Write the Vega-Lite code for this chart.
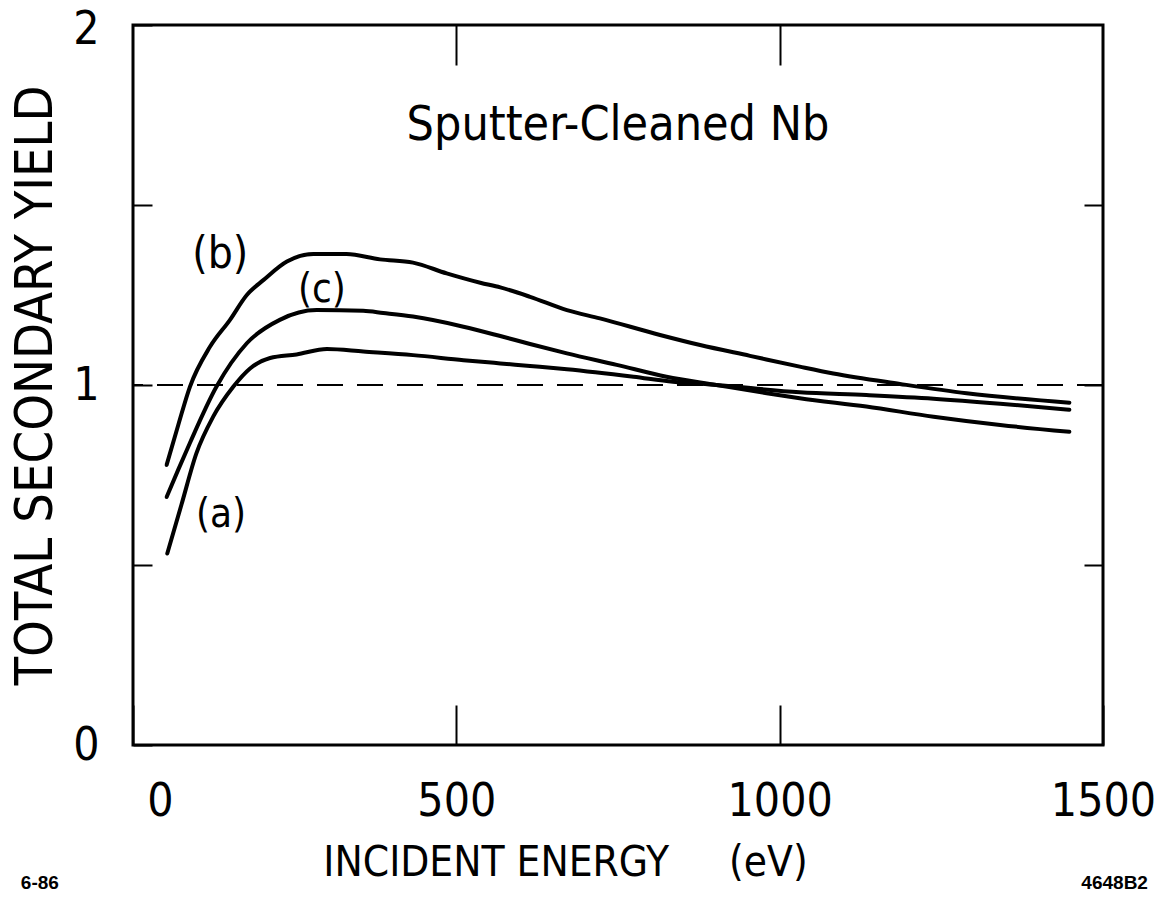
{
  "$schema": "https://vega.github.io/schema/vega-lite/v6.json",
  "width": 970,
  "height": 720,
  "autosize": {"type": "none"},
  "padding": {"left": 133, "top": 25, "right": 52, "bottom": 157},
  "background": "white",
  "config": {
    "view": {"stroke": "black", "strokeWidth": 3},
    "font": "DejaVu Sans Condensed, Liberation Sans Narrow, Liberation Sans, sans-serif",
    "axis": {
      "domain": false,
      "tickColor": "black",
      "tickWidth": 2,
      "tickSize": -19,
      "labelColor": "black",
      "labelFont": "DejaVu Sans Condensed, Liberation Sans Narrow, Liberation Sans, sans-serif",
      "labelFontSize": 46,
      "labelFlush": false,
      "labelOverlap": false,
      "labelBound": false,
      "grid": false,
      "titleColor": "black",
      "titleFont": "DejaVu Sans Condensed, Liberation Sans Narrow, Liberation Sans, sans-serif",
      "titleFontWeight": "normal"
    }
  },
  "resolve": {"axis": {"x": "independent", "y": "independent"}},
  "datasets": {
    "curves": [
      {"curve": "b", "energy": 52, "yield": 0.778},
      {"curve": "b", "energy": 70, "yield": 0.889},
      {"curve": "b", "energy": 88, "yield": 0.995},
      {"curve": "b", "energy": 119, "yield": 1.106},
      {"curve": "b", "energy": 150, "yield": 1.181},
      {"curve": "b", "energy": 176, "yield": 1.25},
      {"curve": "b", "energy": 202, "yield": 1.292},
      {"curve": "b", "energy": 238, "yield": 1.343},
      {"curve": "b", "energy": 279, "yield": 1.364},
      {"curve": "b", "energy": 330, "yield": 1.364},
      {"curve": "b", "energy": 382, "yield": 1.349},
      {"curve": "b", "energy": 433, "yield": 1.34},
      {"curve": "b", "energy": 485, "yield": 1.31},
      {"curve": "b", "energy": 537, "yield": 1.284},
      {"curve": "b", "energy": 568, "yield": 1.271},
      {"curve": "b", "energy": 614, "yield": 1.245},
      {"curve": "b", "energy": 671, "yield": 1.208},
      {"curve": "b", "energy": 722, "yield": 1.185},
      {"curve": "b", "energy": 815, "yield": 1.139},
      {"curve": "b", "energy": 877, "yield": 1.111},
      {"curve": "b", "energy": 954, "yield": 1.081},
      {"curve": "b", "energy": 1031, "yield": 1.051},
      {"curve": "b", "energy": 1083, "yield": 1.032},
      {"curve": "b", "energy": 1186, "yield": 1.003},
      {"curve": "b", "energy": 1289, "yield": 0.977},
      {"curve": "b", "energy": 1448, "yield": 0.951},
      {"curve": "c", "energy": 52, "yield": 0.689},
      {"curve": "c", "energy": 70, "yield": 0.765},
      {"curve": "c", "energy": 88, "yield": 0.839},
      {"curve": "c", "energy": 129, "yield": 0.995},
      {"curve": "c", "energy": 176, "yield": 1.116},
      {"curve": "c", "energy": 227, "yield": 1.181},
      {"curve": "c", "energy": 284, "yield": 1.208},
      {"curve": "c", "energy": 356, "yield": 1.206},
      {"curve": "c", "energy": 387, "yield": 1.2},
      {"curve": "c", "energy": 433, "yield": 1.19},
      {"curve": "c", "energy": 511, "yield": 1.162},
      {"curve": "c", "energy": 568, "yield": 1.136},
      {"curve": "c", "energy": 614, "yield": 1.114},
      {"curve": "c", "energy": 671, "yield": 1.088},
      {"curve": "c", "energy": 748, "yield": 1.056},
      {"curve": "c", "energy": 825, "yield": 1.023},
      {"curve": "c", "energy": 902, "yield": 1.0},
      {"curve": "c", "energy": 980, "yield": 0.977},
      {"curve": "c", "energy": 1031, "yield": 0.963},
      {"curve": "c", "energy": 1134, "yield": 0.94},
      {"curve": "c", "energy": 1238, "yield": 0.912},
      {"curve": "c", "energy": 1341, "yield": 0.889},
      {"curve": "c", "energy": 1448, "yield": 0.87},
      {"curve": "a", "energy": 53, "yield": 0.532},
      {"curve": "a", "energy": 75, "yield": 0.668},
      {"curve": "a", "energy": 98, "yield": 0.81},
      {"curve": "a", "energy": 124, "yield": 0.912},
      {"curve": "a", "energy": 155, "yield": 0.995},
      {"curve": "a", "energy": 181, "yield": 1.046},
      {"curve": "a", "energy": 212, "yield": 1.075},
      {"curve": "a", "energy": 253, "yield": 1.085},
      {"curve": "a", "energy": 300, "yield": 1.1},
      {"curve": "a", "energy": 356, "yield": 1.093},
      {"curve": "a", "energy": 433, "yield": 1.083},
      {"curve": "a", "energy": 511, "yield": 1.069},
      {"curve": "a", "energy": 568, "yield": 1.06},
      {"curve": "a", "energy": 614, "yield": 1.053},
      {"curve": "a", "energy": 671, "yield": 1.044},
      {"curve": "a", "energy": 774, "yield": 1.023},
      {"curve": "a", "energy": 835, "yield": 1.009},
      {"curve": "a", "energy": 902, "yield": 1.0},
      {"curve": "a", "energy": 1031, "yield": 0.98},
      {"curve": "a", "energy": 1134, "yield": 0.972},
      {"curve": "a", "energy": 1238, "yield": 0.962},
      {"curve": "a", "energy": 1341, "yield": 0.948},
      {"curve": "a", "energy": 1448, "yield": 0.931}
    ],
    "reference": [{"yield": 1}],
    "bigLabels": [{"text": "(b)", "energy": 135, "yield": 1.361}],
    "smallLabels": [
      {"text": "(c)", "energy": 292, "yield": 1.264},
      {"text": "(a)", "energy": 136, "yield": 0.639}
    ],
    "heading": [{"text": "Sputter-Cleaned Nb", "energy": 750, "yield": 1.681}],
    "notes": [
      {"text": "6-86", "energy": -144, "yield": -0.383},
      {"text": "4648B2", "energy": 1518, "yield": -0.383}
    ]
  },
  "layer": [
    {
      "data": {"name": "curves"},
      "mark": {"type": "line", "color": "black", "strokeWidth": 4, "interpolate": "monotone", "strokeCap": "round"},
      "encoding": {
        "x": {
          "field": "energy", "type": "quantitative",
          "scale": {"domain": [0, 1500], "nice": false, "zero": false},
          "axis": {
            "orient": "bottom",
            "values": [0, 500, 1000, 1500],
            "format": "d",
            "tickSize": -40,
            "labelPadding": 74,
            "labelOffset": {"condition": {"test": "datum.value === 0", "value": 27}, "value": 0},
            "title": "INCIDENT ENERGY \u00a0\u00a0\u00a0\u00a0(eV)",
            "titleFontSize": 42,
            "titleX": 432,
            "titleY": 117,
            "titleAlign": "center",
            "titleBaseline": "middle"
          }
        },
        "y": {
          "field": "yield", "type": "quantitative",
          "scale": {"domain": [0, 2], "nice": false, "zero": false},
          "axis": {
            "orient": "left",
            "values": [0, 0.5, 1, 1.5, 2],
            "labelExpr": "datum.value % 1 === 0 ? '' + datum.value : ''",
            "labelPadding": 53,
            "labelOffset": {"condition": {"test": "datum.value === 2", "value": 4}, "value": 0},
            "title": "TOTAL SECONDARY YIELD",
            "titleFontSize": 52,
            "titleAngle": -90,
            "titleX": -98,
            "titleY": 360,
            "titleAlign": "center",
            "titleBaseline": "middle"
          }
        },
        "detail": {"field": "curve"}
      }
    },
    {
      "data": {"name": "reference"},
      "mark": {"type": "rule", "color": "black", "strokeWidth": 2, "strokeDash": [26, 14]},
      "encoding": {
        "y": {"field": "yield", "type": "quantitative", "scale": {"domain": [0, 2], "nice": false, "zero": false}, "axis": null}
      }
    },
    {
      "data": {"name": "bigLabels"},
      "mark": {"type": "text", "fontSize": 44, "align": "center", "baseline": "middle", "color": "black"},
      "encoding": {
        "x": {
          "field": "energy", "type": "quantitative",
          "scale": {"domain": [0, 1500], "nice": false, "zero": false},
          "axis": {"orient": "top", "values": [500, 1000], "labels": false, "title": null, "tickSize": -40}
        },
        "y": {
          "field": "yield", "type": "quantitative",
          "scale": {"domain": [0, 2], "nice": false, "zero": false},
          "axis": {"orient": "right", "values": [0.5, 1, 1.5], "labels": false, "title": null}
        },
        "text": {"field": "text"}
      }
    },
    {
      "data": {"name": "smallLabels"},
      "mark": {"type": "text", "fontSize": 40, "align": "center", "baseline": "middle", "color": "black"},
      "encoding": {
        "x": {"field": "energy", "type": "quantitative", "scale": {"domain": [0, 1500], "nice": false, "zero": false}, "axis": null},
        "y": {"field": "yield", "type": "quantitative", "scale": {"domain": [0, 2], "nice": false, "zero": false}, "axis": null},
        "text": {"field": "text"}
      }
    },
    {
      "data": {"name": "heading"},
      "mark": {"type": "text", "fontSize": 48, "align": "center", "baseline": "alphabetic", "color": "black"},
      "encoding": {
        "x": {"field": "energy", "type": "quantitative", "scale": {"domain": [0, 1500], "nice": false, "zero": false}, "axis": null},
        "y": {"field": "yield", "type": "quantitative", "scale": {"domain": [0, 2], "nice": false, "zero": false}, "axis": null},
        "text": {"field": "text"}
      }
    },
    {
      "data": {"name": "notes"},
      "mark": {"type": "text", "fontSize": 19, "fontWeight": "bold", "font": "Liberation Sans, sans-serif", "align": "center", "baseline": "middle", "color": "black"},
      "encoding": {
        "x": {"field": "energy", "type": "quantitative", "scale": {"domain": [0, 1500], "nice": false, "zero": false}, "axis": null},
        "y": {"field": "yield", "type": "quantitative", "scale": {"domain": [0, 2], "nice": false, "zero": false}, "axis": null},
        "text": {"field": "text"}
      }
    }
  ]
}
